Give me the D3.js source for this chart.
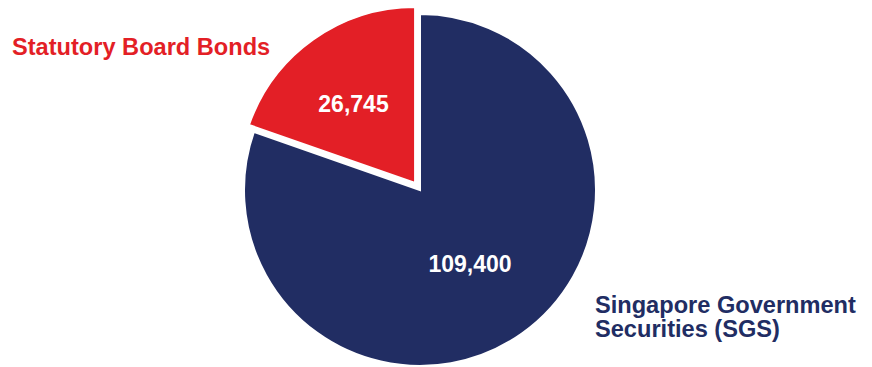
<!DOCTYPE html>
<html><head><meta charset="utf-8">
<script src="https://cdn.jsdelivr.net/npm/d3@7"></script>
<style>body{margin:0;background:#fff}svg{display:block}</style>
</head><body>
<script>
const categories = ["Singapore Government Securities (SGS)", "Statutory Board Bonds"];
const values = [109400, 26745];
const valueLabels = ["109,400", "26,745"];
const colors = ["#212D63", "#E31F26"];

const W = 872, H = 367;
const svg = d3.select("body").append("svg").attr("width", W).attr("height", H);
const cx = 420, cy = 190, R = 176;
const g = svg.append("g").attr("transform", `translate(${cx},${cy})`);

const pie = d3.pie().sort(null).value(d => d.v);
const arcs = pie(values.map((v, i) => ({v, i})));
const arc = d3.arc().innerRadius(0).outerRadius(R);
const explode = [0, 8.5];

g.selectAll("path").data(arcs).join("path")
  .attr("d", arc)
  .attr("fill", d => colors[d.data.i])
  .attr("stroke", "#fff").attr("stroke-width", 2)
  .attr("stroke-linejoin", "miter")
  .attr("transform", d => {
    const a = (d.startAngle + d.endAngle) / 2;
    const e = explode[d.data.i];
    return `translate(${Math.sin(a) * e},${-Math.cos(a) * e})`;
  });

const FONT = "Liberation Sans, Arial, sans-serif";

// value labels
const labelPos = [[50, 81.5], [-66.5, -77.7]];
g.selectAll("text.val").data(arcs).join("text")
  .attr("class", "val")
  .attr("x", d => labelPos[d.data.i][0])
  .attr("y", d => labelPos[d.data.i][1])
  .attr("text-anchor", "middle")
  .attr("font-family", FONT)
  .attr("font-weight", "bold").attr("font-size", 23)
  .attr("fill", "#fff")
  .text(d => valueLabels[d.data.i]);

// category labels
svg.append("text")
  .attr("x", 12).attr("y", 55)
  .attr("font-family", FONT)
  .attr("font-weight", "bold").attr("font-size", 23.6)
  .attr("fill", colors[1])
  .text(categories[1]);

const sgs = svg.append("text")
  .attr("font-family", FONT)
  .attr("font-weight", "bold").attr("font-size", 23.6)
  .attr("fill", colors[0]);
sgs.append("tspan").attr("x", 595).attr("y", 313).text("Singapore Government");
sgs.append("tspan").attr("x", 595).attr("y", 337).text("Securities (SGS)");
</script>
</body></html>
